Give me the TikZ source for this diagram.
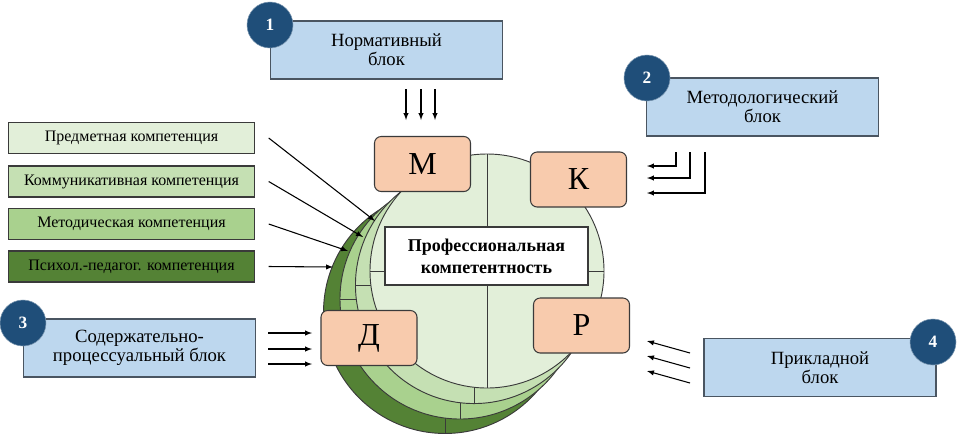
\documentclass[tikz,border=0pt]{standalone}
\usepackage{fontspec}
\setmainfont{Liberation Serif}
\usetikzlibrary{arrows}
\definecolor{blueblock}{HTML}{BDD7EE}
\definecolor{blockline}{HTML}{4A5561}
\definecolor{navy}{HTML}{1F4E79}
\definecolor{peach}{HTML}{F8CBAD}
\definecolor{greenA}{HTML}{E2EFD9}
\definecolor{greenB}{HTML}{C5E0B3}
\definecolor{greenC}{HTML}{A9D18E}
\definecolor{greenD}{HTML}{548235}
\definecolor{edge}{HTML}{3A3A3A}
\tikzstyle{block} = [draw=blockline, line width=1pt, fill=blueblock,
   minimum width=174pt, minimum height=43.5pt, align=center,
   font=\fontsize{14}{14}\selectfont]
\tikzstyle{numdot} = [circle, fill=navy, draw=navy!60!white, text=white,
   minimum size=34.5pt, inner sep=0pt, font=\bfseries\fontsize{13}{13}\selectfont]
\tikzstyle{komp} = [draw=edge, line width=0.8pt, minimum width=185pt,
   minimum height=23.25pt, inner sep=0pt, font=\fontsize{12}{12}\selectfont]
\tikzstyle{letter} = [draw=edge, line width=0.8pt, rounded corners=5pt, fill=peach,
   minimum width=72pt, minimum height=41.25pt, font=\fontsize{24}{24}\selectfont]
\tikzstyle{vec} = [->, >=latex, line width=0.8pt]
\tikzstyle{layer} = [draw=edge, line width=0.7pt]

\begin{document}
\begin{tikzpicture}[x=0.75pt, y=-0.75pt]
  \useasboundingbox (0,0) rectangle (962,437);
  % circle layers, back to front
  \coordinate (c3) at (445,312);
  \coordinate (c2) at (460,299);
  \coordinate (c1) at (474,285);
  \coordinate (c0) at (487,271);
  \filldraw[layer, fill=greenD] (c3) circle[radius=91.1pt];
  \draw[layer] ([xshift=-91.1pt]c3) -- ([xshift=91.1pt]c3);
  \draw[layer] ([yshift=-91.1pt]c3) -- ([yshift=91.1pt]c3);
  \filldraw[layer, fill=greenC] (c2) circle[radius=90pt];
  \draw[layer] ([xshift=-90pt]c2) -- ([xshift=90pt]c2);
  \draw[layer] ([yshift=-90pt]c2) -- ([yshift=90pt]c2);
  \filldraw[layer, fill=greenB] (c1) circle[radius=88.9pt];
  \draw[layer] ([xshift=-88.9pt]c1) -- ([xshift=88.9pt]c1);
  \draw[layer] ([yshift=-88.9pt]c1) -- ([yshift=88.9pt]c1);
  \filldraw[layer, fill=greenA] (c0) circle[radius=87.75pt];
  \draw[layer] ([xshift=-87.75pt]c0) -- ([xshift=87.75pt]c0);
  \draw[layer] ([yshift=-87.75pt]c0) -- ([yshift=87.75pt]c0);

  \node[draw=edge, line width=0.8pt, fill=white, minimum width=152.25pt,
     minimum height=43.5pt, align=center,
     font=\bfseries\fontsize{13.5}{16.5}\selectfont] (pk) at (486.5,256)
     {Профессиональная\\компетентность};

  \node[letter] (m) at (422.5,164) {М};
  \node[letter] (k) at (578.5,179.5) {К};
  \node[letter] (d) at (369,338) {Д};
  \node[letter] (r) at (581.5,325.5) {Р};

  \node[komp, fill=greenA] (k1) at (131.5,138) {Предметная компетенция};
  \node[komp, fill=greenB] (k2) at (131.5,181.5) {Коммуникативная компетенция};
  \node[komp, fill=greenC] (k3) at (131.5,224) {Методическая компетенция};
  \node[komp, fill=greenD] (k4) at (131.5,266.5) {Психол.-педагог. компетенция};

  \node[block] (norm) at (386.5,50) {Нормативный\\блок};
  \node[block] (metod) at (762.5,107) {Методологический\\блок};
  \node[block] (soder) at (139.5,348) {Содержательно-\\процессуальный блок};
  \node[block] (prikl) at (820,367.5) {Прикладной\\блок};

  \node[numdot] (n1) at (270,25) {1};
  \node[numdot] (n2) at (647,78) {2};
  \node[numdot] (n3) at (23,323) {3};
  \node[numdot] (n4) at (933,342) {4};

  % arrow ends (invisible)
  \coordinate (t1) at (375,221);
  \coordinate (t2) at (363,237);
  \coordinate (t3) at (348,251);
  \coordinate (t4) at (333,267);
  \coordinate (na) at (406,89);
  \coordinate (nb) at (421,89);
  \coordinate (nc) at (435,89);
  \coordinate (ma) at (676,152);
  \coordinate (mb) at (690,152);
  \coordinate (mc) at (705,152);
  \coordinate (sa) at (268,333);
  \coordinate (sb) at (268,349);
  \coordinate (sc) at (268,364);
  \coordinate (pa) at (690,353);
  \coordinate (pb) at (690,368);
  \coordinate (pc) at (690,383);

  % arrows
  \draw[vec] ([xshift=10pt]k1.east) -- (t1);
  \draw[vec] ([xshift=10pt]k2.east) -- (t2);
  \draw[vec] ([xshift=10pt]k3.east) -- (t3);
  \draw[vec] ([xshift=10pt]k4.east) -- (t4);
  \draw[vec] (na) -- ++(0,31);
  \draw[vec] (nb) -- ++(0,31);
  \draw[vec] (nc) -- ++(0,31);
  \draw[vec] (ma) -- ++(0,14) -- ++(-29,0);
  \draw[vec] (mb) -- ++(0,26) -- ++(-43,0);
  \draw[vec] (mc) -- ++(0,41) -- ++(-58,0);
  \draw[vec] (sa) -- ++(44,0);
  \draw[vec] (sb) -- ++(44,0);
  \draw[vec] (sc) -- ++(44,0);
  \draw[vec] (pa) -- ++(-43,-12);
  \draw[vec] (pb) -- ++(-43,-12);
  \draw[vec] (pc) -- ++(-43,-12);
\end{tikzpicture}
\end{document}
